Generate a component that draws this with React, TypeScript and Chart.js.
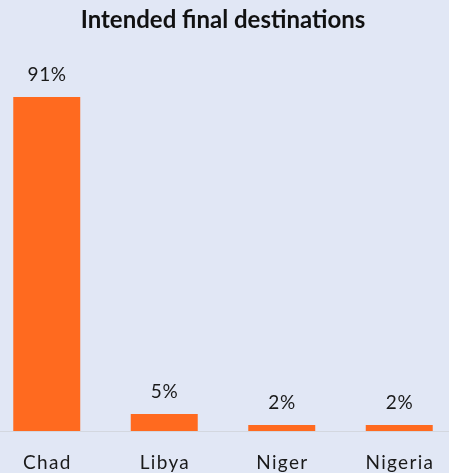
import React, { useEffect, useRef } from "react";
import { Chart, registerables } from "chart.js";

Chart.register(...registerables);

const titleText = "Intended final destinations";
const categories = ["Chad", "Libya", "Niger", "Nigeria"];
const shares = [90.6, 4.6, 1.6, 1.6];
const yMax = 100;

const BG = "#E1E7F5";
const BAR = "#FF6A1F";

const labelPlugin = {
  id: "customLabels",
  afterDraw(chart: any) {
    const ctx = chart.ctx;
    const meta = chart.getDatasetMeta(0);
    const xScale = chart.scales.x;
    ctx.save();
    ctx.fillStyle = "#1a1a1a";
    ctx.textAlign = "center";
    ctx.textBaseline = "alphabetic";
    // value labels
    ctx.font = "19px Lato";
    (ctx as any).letterSpacing = "0.6px";
    meta.data.forEach((bar: any, i: number) => {
      const txt = Math.round(shares[i]) + "%";
      ctx.fillText(txt, bar.x + 0.3, bar.y - 16);
    });
    // category labels
    ctx.font = "19px Lato";
    (ctx as any).letterSpacing = "1.3px";
    categories.forEach((c, i) => {
      const x = xScale.getPixelForTick(i);
      ctx.fillText(c, x + 0.65, chart.chartArea.bottom + 38);
    });
    ctx.restore();
  },
};

export default function App() {
  const ref = useRef<HTMLCanvasElement | null>(null);
  useEffect(() => {
    if (!ref.current) return;
    const chart = new Chart(ref.current, {
      type: "bar",
      data: {
        labels: categories,
        datasets: [
          {
            data: shares,
            backgroundColor: BAR,
            borderWidth: 0,
            categoryPercentage: 1,
            barPercentage: 0.57,
          },
        ],
      },
      options: {
        animation: false,
        responsive: true,
        maintainAspectRatio: false,
        layout: { padding: { left: 10, right: 0, top: 0, bottom: 42 } },
        plugins: {
          legend: { display: false },
          tooltip: { enabled: false },
          title: {
            display: true,
            text: titleText,
            color: "#111",
            font: { family: "Lato", size: 24, weight: "bold", lineHeight: 1.2 },
            padding: { top: 6, bottom: 27.5 },
          },
        },
        scales: {
          x: {
            grid: { display: false, drawTicks: false },
            border: { display: true, color: "#D3D7DF", width: 1 },
            ticks: { display: false },
          },
          y: {
            display: false,
            min: 0,
            max: yMax,
          },
        },
      },
      plugins: [labelPlugin],
    });
    return () => chart.destroy();
  }, []);
  return (
    <div
      style={{
        position: "absolute",
        left: 0,
        top: 0,
        width: 449,
        height: 473,
        overflow: "hidden",
        background: BG,
      }}
    >
      <div style={{ position: "absolute", left: -22, top: 0, width: 480, height: 473 }}>
        <canvas ref={ref} />
      </div>
    </div>
  );
}
